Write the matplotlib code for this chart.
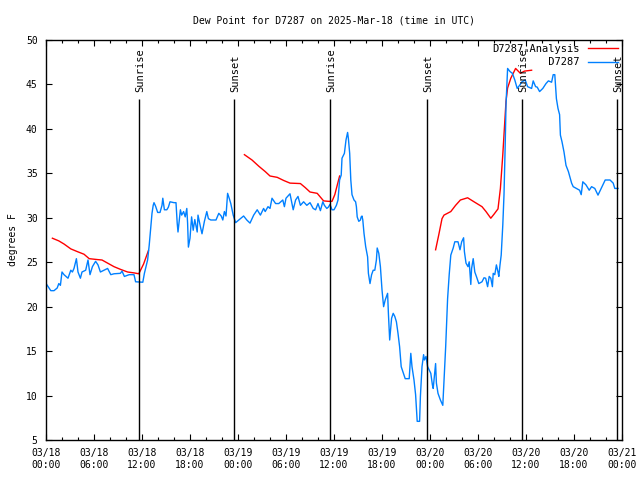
import matplotlib
matplotlib.use("Agg")
import matplotlib.pyplot as plt
import numpy as np

# hours since 2025-03-18 00:00 UTC
red_h = [0.8, 1.6, 2.25, 3.1, 3.9, 4.75, 5.4, 6.4, 7.0, 7.7, 8.5, 9.3, 10.2, 11.0, 11.6, 12.2, 12.8,
         np.nan,
         24.8, 25.75, 26.6, 27.4, 28.0, 28.9, 29.7, 30.5, 31.8, 32.4, 33.0, 33.9, 34.7, 35.3, 35.75, 36.1, 36.7,
         np.nan,
         48.7, 49.1, 49.5, 49.75, 50.6, 51.2, 51.8, 52.7, 53.5, 54.5, 55.0, 55.6, 56.0, 56.5, 56.8, 57.1,
         57.3, 57.5, 57.7, 58.1, 58.7, 59.3, 59.8, 60.7]
red_v = [27.7, 27.4, 27.05, 26.5, 26.2, 25.9, 25.4, 25.3, 25.25, 24.9, 24.5, 24.2, 23.9, 23.8, 23.7, 24.8, 26.3,
         np.nan,
         37.1, 36.5, 35.8, 35.2, 34.7, 34.55, 34.2, 33.9, 33.85, 33.4, 32.9, 32.75, 31.9, 31.85, 31.85, 32.6, 34.7,
         np.nan,
         26.4, 28.1, 29.9, 30.3, 30.7, 31.4, 32.0, 32.25, 31.8, 31.25, 30.7, 29.95, 30.4, 31.0, 33.3, 37.1,
         40.1, 43.1, 44.6, 45.7, 46.8, 46.25, 46.5, 46.6]

blue_h = [0.08, 0.6, 1.0, 1.4, 1.6, 1.8, 2.0, 2.25, 2.5, 2.75, 3.1, 3.3, 3.5, 3.8, 4.0, 4.3, 4.5, 4.96, 5.25,
          5.5, 5.8, 6.2, 6.5, 6.8, 7.25, 7.7, 8.1, 8.5, 9.3, 9.5, 9.8, 10.4, 11.0, 11.2, 12.1,
          12.3, 12.7, 12.9, 13.1, 13.25, 13.4, 13.5, 13.7, 13.96, 14.25, 14.5, 14.6, 14.8, 15.1, 15.3, 15.5,
          16.0, 16.25, 16.4, 16.5, 16.8, 16.96, 17.2, 17.4, 17.6, 17.7, 17.8, 18.0, 18.2, 18.4, 18.6, 18.9,
          19.0, 19.3, 19.5, 19.8, 20.1, 20.3, 20.6, 21.25, 21.6, 21.9, 22.1, 22.3, 22.5, 22.7, 22.9, 23.1,
          23.4, 23.7,
          24.1, 24.7, 25.1, 25.5, 25.96, 26.4, 26.8, 27.2, 27.4, 27.75, 28.0, 28.25, 28.7, 29.1, 29.6, 29.8,
          30.0, 30.5, 30.9, 31.2, 31.5, 31.8, 32.2, 32.6, 33.0, 33.4, 33.7, 34.0, 34.3, 34.6, 34.8, 35.1,
          35.3, 35.5, 35.75, 36.0, 36.3, 36.5, 36.7, 36.9, 37.0, 37.3, 37.5, 37.7, 37.8, 37.96, 38.1, 38.25,
          38.5, 38.7, 38.8, 38.9, 39.1, 39.3, 39.4, 39.5, 39.6, 39.75, 39.96, 40.2, 40.3, 40.5, 40.7, 40.9,
          41.1, 41.3, 41.4, 41.6, 41.8, 42.0, 42.2, 42.4, 42.7, 42.8, 42.96, 43.2, 43.4, 43.6, 43.8, 44.0,
          44.2, 44.4, 44.6, 44.9, 45.4, 45.6, 45.75, 46.0, 46.2, 46.4, 46.7, 46.8, 47.0, 47.2, 47.3, 47.5,
          47.7,
          48.1, 48.3, 48.4, 48.6, 48.7, 48.8, 49.0, 49.3, 49.6, 49.8, 49.96, 50.2, 50.4, 50.6, 50.9, 51.1,
          51.5, 51.75, 51.96, 52.2, 52.3, 52.5, 52.75, 52.9, 53.1, 53.2, 53.4, 53.6, 53.8, 54.1, 54.5, 54.75,
          54.96, 55.2, 55.4, 55.6, 55.8, 55.9, 56.1, 56.3, 56.5, 56.6, 56.75, 56.9, 57.1, 57.25, 57.4, 57.5,
          57.7, 58.0, 58.3, 58.6, 58.9, 59.2, 59.5, 59.9, 60.2, 60.7, 60.9, 61.2, 61.4, 61.7, 62.1, 62.5,
          62.8, 63.2, 63.4, 63.6, 63.8, 64.0, 64.2, 64.3, 64.5, 64.75, 65.0, 65.3, 65.7, 65.9, 66.3, 66.7,
          66.9, 67.1, 67.5, 67.9, 68.2, 68.6, 69.0, 69.4, 69.9, 70.5, 70.9, 71.1, 71.5]
blue_v = [22.5, 21.8, 21.8, 22.1, 22.6, 22.4, 23.9, 23.6, 23.4, 23.2, 24.1, 23.9, 24.3, 25.4, 23.9, 23.2, 23.9, 24.1, 25.25,
          23.6, 24.5, 25.1, 24.7, 23.9, 24.1, 24.3, 23.6, 23.7, 23.75, 24.0, 23.4, 23.6, 23.6, 22.8, 22.75,
          23.75, 25.25, 26.9, 29.0, 30.5, 31.4, 31.7, 31.3, 30.6, 30.6, 31.4, 32.2, 30.9, 30.9, 31.2, 31.8,
          31.7, 31.7, 29.4, 28.4, 30.9, 30.3, 30.7, 30.1, 31.05, 29.4, 26.7, 27.7, 30.1, 28.6, 29.8, 28.4,
          30.3, 29.0, 28.2, 29.6, 30.7, 29.9, 29.75, 29.75, 30.5, 30.2, 29.75, 30.7, 30.2, 32.75, 32.2, 31.6,
          30.3, 29.45,
          29.75, 30.2, 29.75, 29.4, 30.3, 30.9, 30.3, 31.05, 30.7, 31.25, 31.05, 32.2, 31.6, 31.6, 32.0, 31.25,
          32.2, 32.7, 30.9, 32.0, 32.4, 31.4, 31.8, 31.4, 31.7, 31.05, 30.9, 31.6, 30.8, 31.8, 31.4, 31.05,
          31.2, 31.5, 30.9, 30.9, 31.4, 32.0, 34.25, 34.8, 36.7, 37.25, 38.75, 39.6, 38.9, 37.25, 34.25, 32.6,
          32.0, 31.8, 31.25, 30.1, 29.6, 29.75, 30.1, 30.2, 29.75, 28.25, 26.75, 25.6, 23.75, 22.6, 23.6, 24.1,
          24.1, 25.25, 26.6, 26.0, 24.5, 21.9, 20.0, 20.75, 21.5, 19.25, 16.25, 18.7, 19.25, 18.9, 18.3, 17.0,
          15.5, 13.25, 12.7, 11.9, 11.9, 14.75, 13.25, 11.75, 10.1, 7.1, 7.1, 9.9, 13.25, 14.6, 14.0, 14.4,
          13.25,
          12.5, 11.2, 10.8, 12.7, 13.6, 11.4, 10.25, 9.5, 8.9, 12.5, 15.5, 20.9, 23.6, 25.8, 26.6, 27.3,
          27.3, 26.4, 27.3, 27.75, 26.2, 24.9, 24.5, 25.05, 22.5, 24.3, 25.4, 23.9, 23.4, 22.6, 22.8, 23.25,
          23.2, 22.25, 23.4, 23.2, 22.25, 23.75, 23.6, 24.7, 23.9, 23.4, 24.7, 25.8, 29.2, 32.6, 38.2, 42.7,
          46.8, 46.45, 46.25, 45.5, 44.55, 44.9, 45.3, 45.5, 44.75, 44.55, 45.4, 44.75, 44.7, 44.2, 44.55, 45.1,
          45.4, 45.25, 46.1, 46.1, 43.4, 42.3, 41.6, 39.3, 38.55, 37.4, 35.9, 35.2, 33.9, 33.5, 33.3, 33.1,
          32.6, 34.05, 33.7, 33.1, 33.5, 33.3, 32.55, 33.3, 34.25, 34.25, 33.9, 33.3, 33.3]

sun_h = [11.66, 23.54, 35.55, 47.6, 59.45, 71.4]
sun_lbl = ["Sunrise", "Sunset", "Sunrise", "Sunset", "Sunrise", "Sunset"]

x_ticks = list(range(0, 73, 6))
x_labels = ["03/18\n00:00", "03/18\n06:00", "03/18\n12:00", "03/18\n18:00",
            "03/19\n00:00", "03/19\n06:00", "03/19\n12:00", "03/19\n18:00",
            "03/20\n00:00", "03/20\n06:00", "03/20\n12:00", "03/20\n18:00", "03/21\n00:00"]
y_ticks = list(range(5, 51, 5))

FAM = ["DejaVu Sans Mono", "DejaVu Sans"]
plt.rcParams["font.family"] = FAM
plt.rcParams["font.size"] = 7

fig = plt.figure(figsize=(6.4, 4.8), dpi=100)
ax = fig.add_axes([46/640, 40/480, 576/640, 400/480])

ax.plot(red_h, red_v, color="#ff0000", lw=1.0, label="D7287\u2090Analysis")
ax.plot(blue_h, blue_v, color="#0080ff", lw=1.0, label="         D7287")

for h, lbl in zip(sun_h, sun_lbl):
    ax.vlines(h, 5, 43.4, color="black", lw=1.0)
    ax.text(h + 0.15, 44.2, lbl, rotation=90, ha="center", va="bottom", fontsize=7.5)

ax.set_xlim(0, 72)
ax.set_ylim(5, 50)
ax.set_xticks(x_ticks)
ax.set_xticklabels(x_labels)
ax.set_xticks(np.arange(0, 73, 2), minor=True)
ax.set_yticks(y_ticks)
ax.tick_params(which="both", direction="in", top=True, right=True, width=0.8)
ax.tick_params(which="major", length=4, pad=6)
ax.tick_params(which="minor", length=2)
for s in ax.spines.values():
    s.set_linewidth(1.0)

ax.set_title("Dew Point for D7287 on 2025-Mar-18 (time in UTC)", fontsize=7, pad=12)
ax.set_ylabel("degrees F", labelpad=6)

leg = ax.legend(loc="upper right", frameon=False, markerfirst=False, handlelength=2.9,
                handletextpad=0.8, borderaxespad=0.05, borderpad=0.3, labelspacing=0.35, fontsize=7.5)

fig.savefig("out.png", dpi=100)
